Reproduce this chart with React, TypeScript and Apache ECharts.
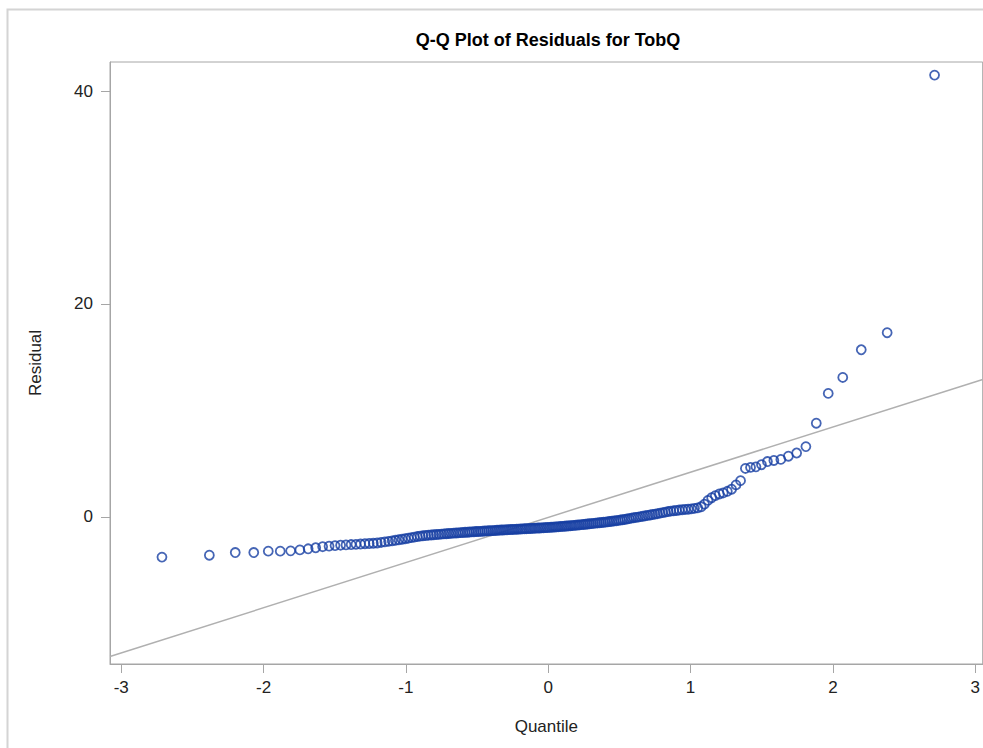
import React, { useEffect, useRef } from "react";
import * as echarts from "echarts";

const quantiles = [
  -2.714, -2.381, -2.199, -2.069, -1.967, -1.883, -1.81, -1.745, -1.687, -1.634,
  -1.585, -1.54, -1.498, -1.459, -1.421, -1.385, -1.351, -1.319, -1.288, -1.258,
  -1.229, -1.202, -1.174, -1.148, -1.122, -1.097, -1.074, -1.05, -1.027, -1.005,
  -0.983, -0.962, -0.941, -0.92, -0.9, -0.881, -0.861, -0.842, -0.823, -0.805,
  -0.786, -0.768, -0.751, -0.733, -0.716, -0.699, -0.682, -0.665, -0.648, -0.632,
  -0.616, -0.6, -0.584, -0.568, -0.553, -0.537, -0.522, -0.507, -0.492, -0.477,
  -0.462, -0.447, -0.432, -0.418, -0.403, -0.389, -0.374, -0.36, -0.346, -0.332,
  -0.318, -0.304, -0.29, -0.276, -0.262, -0.249, -0.235, -0.221, -0.208, -0.194,
  -0.181, -0.167, -0.154, -0.14, -0.127, -0.114, -0.1, -0.087, -0.073, -0.06,
  -0.047, -0.033, -0.02, -0.007,
  0.007, 0.02, 0.033, 0.047, 0.06, 0.073, 0.087, 0.1, 0.114, 0.127,
  0.14, 0.154, 0.167, 0.181, 0.194, 0.208, 0.221, 0.235, 0.249, 0.262,
  0.276, 0.29, 0.304, 0.318, 0.332, 0.346, 0.36, 0.374, 0.389, 0.403,
  0.418, 0.432, 0.447, 0.462, 0.477, 0.492, 0.507, 0.522, 0.537, 0.553,
  0.568, 0.584, 0.6, 0.616, 0.632, 0.648, 0.665, 0.682, 0.699, 0.716,
  0.733, 0.751, 0.768, 0.786, 0.805, 0.823, 0.842, 0.861, 0.881, 0.9,
  0.92, 0.941, 0.962, 0.983, 1.005, 1.027, 1.05, 1.074, 1.097, 1.122,
  1.148, 1.174, 1.202, 1.229, 1.258, 1.288, 1.319, 1.351, 1.385, 1.421,
  1.459, 1.498, 1.54, 1.585, 1.634, 1.687, 1.745, 1.81, 1.883, 1.967,
  2.069, 2.199, 2.381, 2.714,
];

const residuals = [
  -3.78, -3.6, -3.35, -3.35, -3.22, -3.22, -3.19, -3.1, -3.0, -2.9,
  -2.8, -2.75, -2.7, -2.66, -2.63, -2.6, -2.58, -2.55, -2.52, -2.5,
  -2.48, -2.45, -2.4, -2.35, -2.3, -2.25, -2.2, -2.15, -2.1, -2.05,
  -2.0, -1.95, -1.9, -1.85, -1.81, -1.78, -1.75, -1.72, -1.7, -1.68,
  -1.66, -1.64, -1.62, -1.6, -1.58, -1.56, -1.55, -1.53, -1.51, -1.5,
  -1.48, -1.47, -1.45, -1.44, -1.42, -1.41, -1.4, -1.38, -1.37, -1.36,
  -1.35, -1.33, -1.32, -1.31, -1.3, -1.29, -1.28, -1.26, -1.25, -1.24,
  -1.23, -1.22, -1.21, -1.2, -1.19, -1.18, -1.17, -1.16, -1.15, -1.14,
  -1.13, -1.12, -1.11, -1.1, -1.09, -1.08, -1.07, -1.06, -1.05, -1.04,
  -1.03, -1.02, -1.01, -1.0,
  -0.99, -0.98, -0.96, -0.95, -0.94, -0.92, -0.91, -0.89, -0.88, -0.86,
  -0.85, -0.83, -0.82, -0.8, -0.78, -0.77, -0.75, -0.73, -0.71, -0.69,
  -0.67, -0.65, -0.63, -0.61, -0.59, -0.57, -0.55, -0.53, -0.51, -0.49,
  -0.46, -0.44, -0.41, -0.38, -0.36, -0.33, -0.3, -0.27, -0.24, -0.2,
  -0.16, -0.12, -0.08, -0.05, -0.02, 0.02, 0.06, 0.1, 0.14, 0.18,
  0.22, 0.26, 0.3, 0.35, 0.4, 0.45, 0.5, 0.54, 0.57, 0.6,
  0.64, 0.67, 0.7, 0.72, 0.75, 0.8, 0.85, 0.95, 1.2, 1.55,
  1.8, 2.0, 2.15, 2.25, 2.4, 2.6, 3.0, 3.4, 4.55, 4.65,
  4.7, 4.9, 5.2, 5.3, 5.4, 5.7, 6.0, 6.6, 8.8, 11.6,
  13.1, 15.7, 17.3, 41.5,
];

const refLineX = [-3.079, 3.052];
const refLineY = [-13.12, 12.91];

const xTicks = [-3, -2, -1, 0, 1, 2, 3];
const yTicks = [0, 20, 40];

const FONT = '"Liberation Sans", Arial, Helvetica, sans-serif';

export default function App() {
  const ref = useRef<HTMLDivElement>(null);

  useEffect(() => {
    const chart = echarts.init(ref.current!, null, { renderer: "svg" });
    const points = quantiles.map((q, i) => [q, residuals[i]]);
    const line = refLineX.map((x, i) => [x, refLineY[i]]);
    chart.setOption({
      animation: false,
      backgroundColor: "#ffffff",
      textStyle: { fontFamily: FONT },
      graphic: [
        {
          type: "rect",
          shape: { x: 7.5, y: 9.5, width: 1100, height: 900 },
          style: { fill: "none", stroke: "#d4d4d4", lineWidth: 2 },
          silent: true,
        },
        {
          type: "text",
          x: 548,
          y: 40,
          style: {
            text: "Q-Q Plot of Residuals for TobQ",
            fontFamily: FONT,
            fontSize: 18,
            fontWeight: "bold",
            fill: "#000000",
            textAlign: "center",
            textVerticalAlign: "middle",
          },
          silent: true,
        },
      ],
      grid: {
        left: 110,
        top: 62,
        right: -2,
        bottom: 84,
        show: true,
        borderColor: "#a6a6a6",
        borderWidth: 1,
        backgroundColor: "transparent",
      },
      xAxis: {
        type: "value",
        min: -3.079,
        max: 3.052,
        name: "Quantile",
        nameLocation: "middle",
        nameGap: 54,
        nameTextStyle: { fontSize: 17, color: "#222222", fontFamily: FONT },
        axisLine: { show: true, onZero: false, lineStyle: { color: "#a6a6a6", width: 1 } },
        axisTick: {
          show: true,
          length: 9,
          lineStyle: { color: "#a6a6a6" },
          customValues: xTicks,
        },
        axisLabel: {
          fontSize: 17,
          color: "#222222",
          margin: 15,
          fontFamily: FONT,
          customValues: xTicks,
        },
        splitLine: { show: false },
      },
      yAxis: {
        type: "value",
        min: -13.82,
        max: 42.73,
        name: "Residual",
        nameLocation: "middle",
        nameGap: 66,
        nameTextStyle: { fontSize: 17, color: "#222222", fontFamily: FONT },
        axisLine: { show: true, onZero: false, lineStyle: { color: "#a6a6a6", width: 1 } },
        axisTick: {
          show: true,
          length: 9,
          lineStyle: { color: "#a6a6a6" },
          customValues: yTicks,
        },
        axisLabel: {
          fontSize: 17,
          color: "#222222",
          margin: 17,
          fontFamily: FONT,
          customValues: yTicks,
        },
        splitLine: { show: false },
      },
      series: [
        {
          type: "line",
          data: line,
          symbol: "none",
          lineStyle: { color: "#b0b0b0", width: 1.5 },
          z: 1,
          silent: true,
        },
        {
          type: "scatter",
          data: points,
          symbol: "circle",
          symbolSize: 9,
          itemStyle: {
            color: "rgba(0,0,0,0)",
            borderColor: "#173ea3",
            borderWidth: 1.8,
          },
          z: 2,
          silent: true,
        },
      ],
    });
    return () => chart.dispose();
  }, []);

  return (
    <div
      ref={ref}
      style={{ position: "absolute", left: 0, top: 0, width: 983, height: 748, background: "#ffffff" }}
    />
  );
}
